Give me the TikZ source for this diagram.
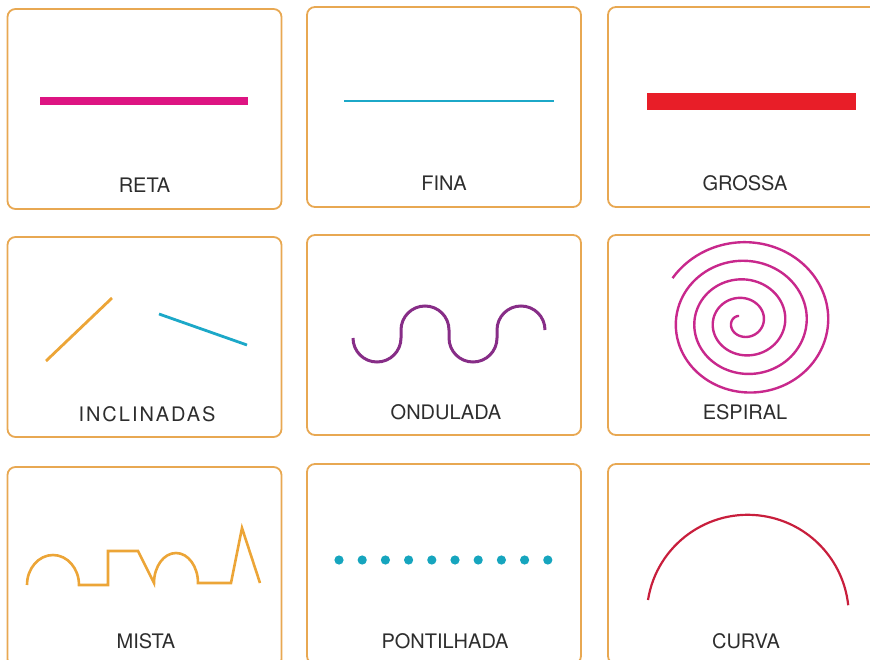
\documentclass[tikz,border=0pt]{standalone}
\usepackage{fontspec}
\setmainfont{TeX Gyre Heros}
\definecolor{cardline}{RGB}{232,168,82}
\definecolor{captext}{RGB}{45,45,45}
\definecolor{pinkline}{RGB}{221,20,130}
\definecolor{cyanline}{RGB}{28,168,200}
\definecolor{redline}{RGB}{232,30,40}
\definecolor{orangeline}{RGB}{236,165,55}
\definecolor{purpleline}{RGB}{135,45,135}
\definecolor{spiralline}{RGB}{200,40,140}
\definecolor{dotblue}{RGB}{22,165,190}
\definecolor{curveline}{RGB}{200,30,60}
\begin{document}
\begin{tikzpicture}[x=1pt, y=-1pt,
	card/.style={draw=cardline, line width=1.8pt, rounded corners=8pt, minimum width=274pt, minimum height=200pt, inner sep=0pt},
	caption/.style={anchor=base, text=captext, font=\fontsize{20}{24}\selectfont, inner sep=0pt}]
				\useasboundingbox (0,0) rectangle (870,660);
				\clip (0,0) rectangle (870,660);

				% Cards
				\node[card] (reta) at (144.5,109) {};
				\node[card] (fina) at (444,107) {};
				\node[card] (grossa) at (745,107) {};
				\node[card] (inclinadas) at (144.5,337) {};
				\node[card] (ondulada) at (444,335) {};
				\node[card] (espiral) at (745,335) {};
				\node[card] (mista) at (144.5,567) {};
				\node[card] (pontilhada) at (444,564) {};
				\node[card] (curva) at (745,564) {};

				% Captions
				\node[caption] (retaT) at (144.5,193) {RETA};
				\node[caption] (finaT) at (444,191) {FINA};
				\node[caption] (grossaT) at (745,191) {GROSSA};
				\node[caption] (inclinadasT) at (147,421) {\addfontfeature{LetterSpace=10}INCLINADAS};
				\node[caption] (onduladaT) at (446,419) {ONDULADA};
				\node[caption] (espiralT) at (745,419) {ESPIRAL};
				\node[caption] (mistaT) at (146,648) {MISTA};
				\node[caption] (pontilhadaT) at (445,648) {PONTILHADA};
				\node[caption] (curvaT) at (746,648) {CURVA};

				% Straight lines
				\draw[pinkline, line width=8] (40,101) -- (248,101);
				\draw[cyanline, line width=2.8] (344,101) -- (554,101);
				\draw[redline, line width=17] (647,101.5) -- (856,101.5);

				% Inclined lines
				\draw[orangeline, line width=2.8] (46,361) -- (112,298);
				\draw[cyanline, line width=2.8] (159,314) -- (247,345);

				% Wave
				\draw[purpleline, line width=3] (353,338) arc[start angle=180, end angle=0, radius=24]
					-- (401,330) arc[start angle=180, end angle=360, radius=24]
					-- (449,338) arc[start angle=180, end angle=0, radius=24]
					-- (497,330) arc[start angle=180, end angle=360, radius=24];

				% Spiral
				\draw[spiralline, line width=2.4] plot[domain=0:4.1, samples=400, smooth]
					({748-1.5*\x+(89-20*\x)*cos(212+360*\x)}, {322+0.93*(89-20*\x)*sin(212+360*\x)});

				% Mixed line
				\draw[orangeline, line width=2.6] (27,585) arc[start angle=180, end angle=360, x radius=26, y radius=30]
					-- (108,585) -- (108,551) -- (138,551) -- (154,583)
					arc[start angle=180, end angle=360, x radius=22, y radius=30]
					-- (231,583) -- (242,528) -- (260,583);

				% Dotted line
				\foreach \i in {0,...,9}
					\fill[dotblue] (339+23.2*\i,560) circle (4.6);

				% Curve
				\draw[curveline, line width=2.2] (648,600) arc[start angle=189, end angle=354, radius=101];
			\end{tikzpicture}
\end{document}
